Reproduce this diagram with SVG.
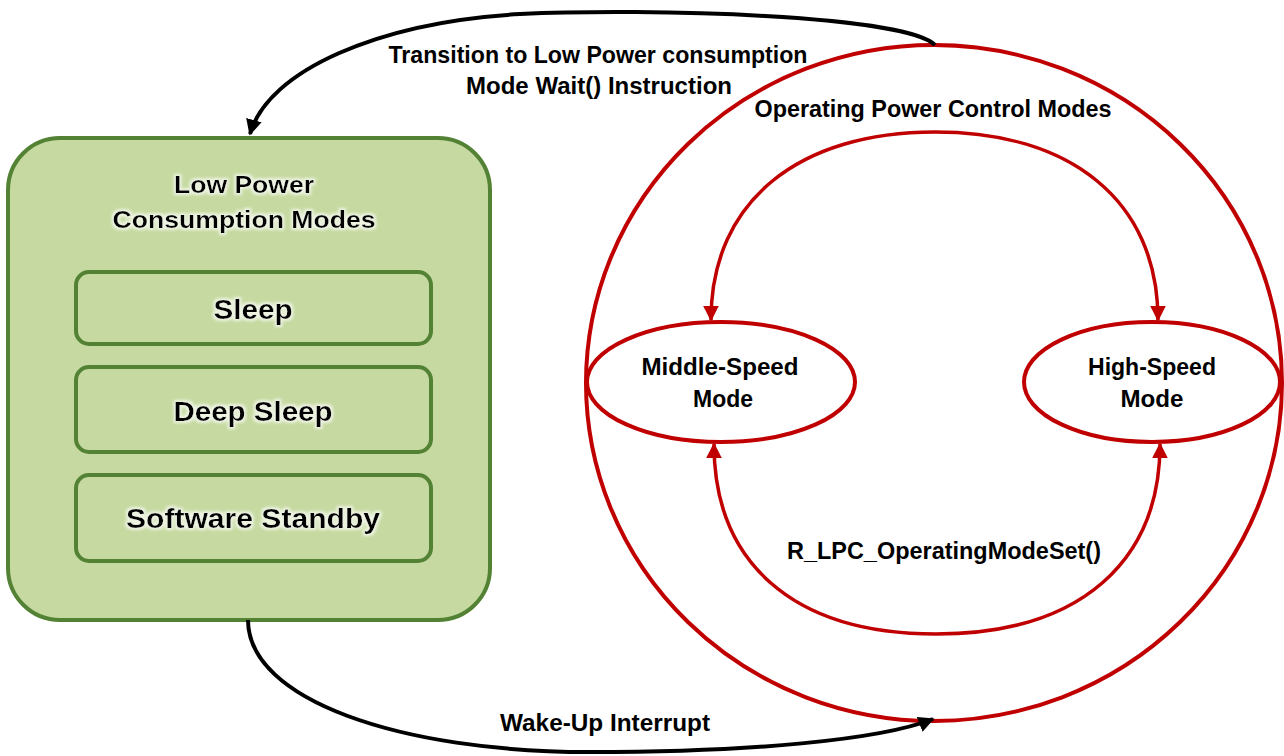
<svg xmlns="http://www.w3.org/2000/svg" width="1284" height="756" viewBox="0 0 1284 756">
<defs>
<style>
.t{font-family:"Liberation Sans",Arial,sans-serif;font-weight:bold;fill:#000;text-anchor:middle}
.s21{font-size:23px}
.s24{font-size:24.5px}
.s26{font-size:27.5px}
.red{fill:none;stroke:#c00000;stroke-width:4}
.redc{fill:none;stroke:#c00000;stroke-width:3.5}
.blk{fill:none;stroke:#000;stroke-width:4}
.gbox{fill:#c5d9a0;stroke:#548235;stroke-width:4}
.glow{filter:url(#glow)}
</style>
<filter id="glow" x="-10%" y="-30%" width="120%" height="160%">
<feMorphology in="SourceAlpha" operator="dilate" radius="1.5" result="d"/>
<feGaussianBlur in="d" stdDeviation="1.5" result="b"/>
<feFlood flood-color="#ffffff" flood-opacity="0.7"/>
<feComposite in2="b" operator="in" result="g"/>
<feMerge><feMergeNode in="g"/><feMergeNode in="SourceGraphic"/></feMerge>
</filter>
<marker id="ab" viewBox="0 0 10 10" refX="9" refY="5" markerWidth="4" markerHeight="4" markerUnits="strokeWidth" orient="auto"><path d="M0,0 L10,5 L0,10 Z" fill="#000"/></marker>
<marker id="ar" viewBox="0 0 10 10" refX="9" refY="5" markerWidth="4.5" markerHeight="4.5" markerUnits="strokeWidth" orient="auto"><path d="M0,0 L10,5 L0,10 Z" fill="#c00000"/></marker>
</defs>
<rect width="1284" height="756" fill="#fff"/>

<g id="low-power">
<rect class="gbox" x="8" y="138" width="482" height="482" rx="52"/>
<g class="glow">
<text class="t s24" x="244" y="193" textLength="140" lengthAdjust="spacingAndGlyphs">Low Power</text>
<text class="t s24" x="244" y="228" textLength="263" lengthAdjust="spacingAndGlyphs">Consumption Modes</text>
</g>
</g>
<g id="sleep">
<rect class="gbox" x="76" y="272" width="355" height="72" rx="13"/>
<text class="t s26 glow" x="253" y="319" textLength="79" lengthAdjust="spacingAndGlyphs">Sleep</text>
</g>
<g id="deep-sleep">
<rect class="gbox" x="76" y="367" width="355" height="85" rx="13"/>
<text class="t s26 glow" x="253" y="421" textLength="159" lengthAdjust="spacingAndGlyphs">Deep Sleep</text>
</g>
<g id="software-standby">
<rect class="gbox" x="76" y="475" width="355" height="86" rx="13"/>
<text class="t s26 glow" x="253" y="528" textLength="254" lengthAdjust="spacingAndGlyphs">Software Standby</text>
</g>

<g id="operating-modes">
<ellipse class="red" cx="934" cy="383" rx="348" ry="338"/>
<text class="t s21" x="933" y="117" textLength="357" lengthAdjust="spacingAndGlyphs">Operating Power Control Modes</text>
</g>
<g id="middle-speed">
<ellipse class="red" cx="721" cy="382" rx="134" ry="60"/>
<text class="t s21" x="720" y="375" textLength="157" lengthAdjust="spacingAndGlyphs">Middle-Speed</text>
<text class="t s21" x="723" y="407" textLength="60" lengthAdjust="spacingAndGlyphs">Mode</text>
</g>
<g id="high-speed">
<ellipse class="red" cx="1152" cy="382" rx="128" ry="60"/>
<text class="t s21" x="1152" y="375" textLength="128" lengthAdjust="spacingAndGlyphs">High-Speed</text>
<text class="t s21" x="1152" y="407" textLength="63" lengthAdjust="spacingAndGlyphs">Mode</text>
</g>

<g id="connectors">
<path class="blk" marker-end="url(#ab)" d="M935,45 C905,15 650,8 520,14 C380,22 268,70 250,134"/>
<path class="blk" marker-end="url(#ab)" d="M248,620 C248,700 400,752 590,752 C750,752 880,740 933,719"/>
<path class="redc" marker-end="url(#ar)" d="M935,132 C800,132 711,200 711,320"/>
<path class="redc" marker-end="url(#ar)" d="M935,132 C1070,132 1158,200 1158,320"/>
<path class="redc" marker-end="url(#ar)" d="M936,634 C790,634 714,560 714,444"/>
<path class="redc" marker-end="url(#ar)" d="M936,634 C1082,634 1160,560 1160,444"/>
<text class="t s21" x="598" y="63" textLength="419" lengthAdjust="spacingAndGlyphs">Transition to Low Power consumption</text>
<text class="t s21" x="599" y="94" textLength="266" lengthAdjust="spacingAndGlyphs">Mode Wait() Instruction</text>
<text class="t s21" x="944" y="559" textLength="314" lengthAdjust="spacingAndGlyphs">R_LPC_OperatingModeSet()</text>
<text class="t s21" x="605" y="731" textLength="210" lengthAdjust="spacingAndGlyphs">Wake-Up Interrupt</text>
</g>
</svg>
